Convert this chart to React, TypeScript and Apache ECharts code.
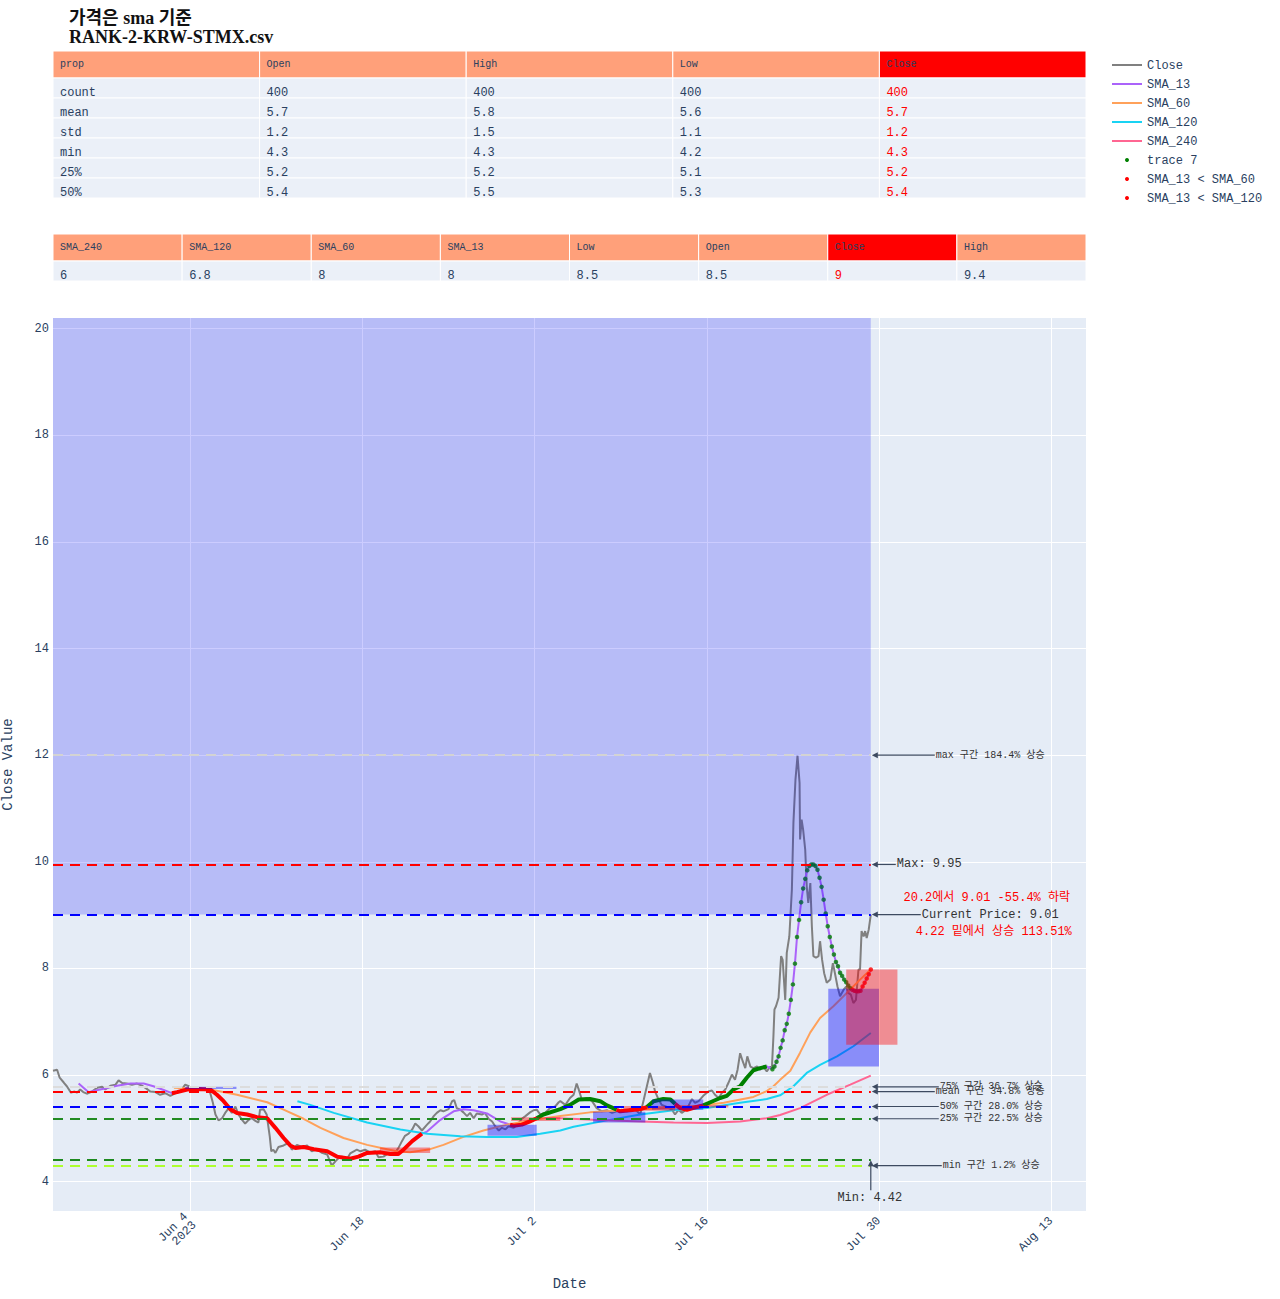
import React, { useEffect, useRef } from "react";
import * as echarts from "echarts";

const YEAR = 2023;
function ts(s: string): number {
  const [md, h] = s.split(" ");
  const [m, d] = md.split("/").map(Number);
  return Date.UTC(YEAR, m - 1, d, Number(h || 0));
}
const MONTHS = ["Jan", "Feb", "Mar", "Apr", "May", "Jun", "Jul", "Aug", "Sep", "Oct", "Nov", "Dec"];

// ---------- DATA ----------
const TITLE_LINES = ["가격은 sma 기준", "RANK-2-KRW-STMX.csv"];

const TABLE1_HEADER = ["prop", "Open", "High", "Low", "Close"];
const TABLE1_ROWS = [
  ["count", "400", "400", "400", "400"],
  ["mean", "5.7", "5.8", "5.6", "5.7"],
  ["std", "1.2", "1.5", "1.1", "1.2"],
  ["min", "4.3", "4.3", "4.2", "4.3"],
  ["25%", "5.2", "5.2", "5.1", "5.2"],
  ["50%", "5.4", "5.5", "5.3", "5.4"],
];
const TABLE2_HEADER = ["SMA_240", "SMA_120", "SMA_60", "SMA_13", "Low", "Open", "Close", "High"];
const TABLE2_VALUES = ["6", "6.8", "8", "8", "8.5", "8.5", "9", "9.4"];

const LEGEND_NAMES = ["Close", "SMA_13", "SMA_60", "SMA_120", "SMA_240", "trace 7", "SMA_13 < SMA_60", "SMA_13 < SMA_120"];

const FIRST_DATE = "5/23 20";
const LAST_DATE = "7/29 8";
const X_MAX_DATE = "8/15 20";
const X_TICKS = ["6/4 0", "6/18 0", "7/2 0", "7/16 0", "7/30 0", "8/13 0"];
const Y_TICKS = [4, 6, 8, 10, 12, 14, 16, 18, 20];
const Y_MIN = 3.45;
const Y_MAX = 20.2;

const CLOSE: [string, number][] = [
  ["5/23 20", 6.08], ["5/24 4", 6.1], ["5/24 9", 5.95], ["5/24 17", 5.86], ["5/24 23", 5.79], ["5/25 7", 5.67],
  ["5/25 14", 5.69], ["5/25 19", 5.67], ["5/26 1", 5.73], ["5/26 7", 5.68], ["5/26 14", 5.65], ["5/27 0", 5.69],
  ["5/27 10", 5.76], ["5/27 20", 5.78], ["5/28 2", 5.73], ["5/28 12", 5.8], ["5/28 22", 5.82], ["5/29 4", 5.9],
  ["5/29 11", 5.85], ["5/29 20", 5.84], ["5/30 6", 5.82], ["5/30 16", 5.84], ["5/31 2", 5.8], ["5/31 11", 5.74],
  ["5/31 18", 5.69], ["6/1 4", 5.68], ["6/1 13", 5.63], ["6/1 23", 5.66], ["6/2 9", 5.61], ["6/2 19", 5.66],
  ["6/3 4", 5.69], ["6/3 14", 5.82], ["6/3 21", 5.79], ["6/4 3", 5.74], ["6/4 13", 5.76], ["6/4 23", 5.74],
  ["6/5 9", 5.73], ["6/5 15", 5.66], ["6/5 20", 5.48], ["6/6 1", 5.26], ["6/6 7", 5.15], ["6/6 14", 5.19],
  ["6/6 20", 5.29], ["6/7 3", 5.38], ["6/7 9", 5.29], ["6/7 16", 5.41], ["6/7 22", 5.26], ["6/8 5", 5.16],
  ["6/8 11", 5.09], ["6/8 18", 5.16], ["6/9 0", 5.19], ["6/9 7", 5.14], ["6/9 13", 5.11], ["6/9 16", 5.35],
  ["6/9 23", 5.36], ["6/10 5", 5.26], ["6/10 11", 4.85], ["6/10 14", 4.57], ["6/10 18", 4.6], ["6/10 22", 4.54],
  ["6/11 4", 4.65], ["6/11 14", 4.68], ["6/12 0", 4.73], ["6/12 6", 4.6], ["6/12 16", 4.69], ["6/13 2", 4.65],
  ["6/13 12", 4.68], ["6/13 21", 4.57], ["6/14 7", 4.61], ["6/14 17", 4.54], ["6/15 3", 4.51], ["6/15 12", 4.3],
  ["6/15 19", 4.38], ["6/16 1", 4.44], ["6/16 8", 4.47], ["6/16 18", 4.43], ["6/17 0", 4.53], ["6/17 7", 4.57],
  ["6/17 13", 4.6], ["6/17 20", 4.57], ["6/18 5", 4.6], ["6/18 15", 4.55], ["6/19 1", 4.57], ["6/19 7", 4.46],
  ["6/19 17", 4.47], ["6/20 3", 4.54], ["6/20 13", 4.51], ["6/20 22", 4.63], ["6/21 5", 4.76], ["6/21 11", 4.86],
  ["6/21 18", 4.9], ["6/22 1", 4.98], ["6/22 7", 5.09], ["6/22 13", 5.04], ["6/22 20", 4.96], ["6/23 6", 5.07],
  ["6/23 12", 5.13], ["6/23 19", 5.23], ["6/24 1", 5.29], ["6/24 8", 5.34], ["6/24 14", 5.32], ["6/25 0", 5.36],
  ["6/25 7", 5.51], ["6/25 11", 5.53], ["6/25 16", 5.38], ["6/25 23", 5.35], ["6/26 5", 5.3], ["6/26 12", 5.23],
  ["6/26 18", 5.29], ["6/27 1", 5.19], ["6/27 7", 5.28], ["6/27 17", 5.26], ["6/27 23", 5.29], ["6/28 6", 5.18],
  ["6/28 13", 5.13], ["6/28 19", 5.04], ["6/29 2", 4.96], ["6/29 8", 5.01], ["6/29 15", 4.98], ["6/29 21", 5.04],
  ["6/30 7", 5.01], ["6/30 16", 5.09], ["6/30 23", 5.18], ["7/1 6", 5.23], ["7/1 15", 5.3], ["7/1 22", 5.34],
  ["7/2 4", 5.35], ["7/2 11", 5.26], ["7/2 20", 5.29], ["7/3 6", 5.38], ["7/3 16", 5.41], ["7/3 23", 5.49],
  ["7/4 2", 5.51], ["7/4 12", 5.44], ["7/4 21", 5.57], ["7/5 4", 5.63], ["7/5 10", 5.84], ["7/5 14", 5.73],
  ["7/5 20", 5.54], ["7/6 6", 5.57], ["7/6 16", 5.51], ["7/7 1", 5.38], ["7/7 11", 5.32], ["7/7 21", 5.34],
  ["7/8 7", 5.29], ["7/8 16", 5.32], ["7/9 2", 5.35], ["7/9 12", 5.32], ["7/9 22", 5.38], ["7/10 8", 5.32],
  ["7/10 14", 5.26], ["7/10 21", 5.54], ["7/11 3", 5.79], ["7/11 9", 6.04], ["7/11 15", 5.85], ["7/11 19", 5.69],
  ["7/12 2", 5.54], ["7/12 8", 5.44], ["7/12 18", 5.4], ["7/13 4", 5.35], ["7/13 10", 5.26], ["7/13 17", 5.35],
  ["7/13 23", 5.29], ["7/14 9", 5.36], ["7/14 19", 5.55], ["7/15 1", 5.48], ["7/15 8", 5.51], ["7/15 17", 5.61],
  ["7/16 3", 5.69], ["7/16 10", 5.71], ["7/16 16", 5.63], ["7/16 23", 5.57], ["7/17 5", 5.66], ["7/17 12", 5.73],
  ["7/17 18", 5.85], ["7/18 1", 6.01], ["7/18 7", 5.91], ["7/18 12", 6.1], ["7/18 17", 6.41], ["7/18 22", 6.26],
  ["7/19 3", 6.13], ["7/19 7", 6.35], ["7/19 13", 6.16], ["7/19 19", 6.13], ["7/20 2", 6.16], ["7/20 8", 6.1],
  ["7/20 14", 6.16], ["7/20 21", 6.07], ["7/21 4", 6.16], ["7/21 7", 6.13], ["7/21 10", 6.73], ["7/21 12", 7.23],
  ["7/21 15", 7.29], ["7/21 20", 7.45], ["7/22 1", 8.23], ["7/22 4", 8.16], ["7/22 9", 7.41], ["7/22 12", 8.29],
  ["7/22 17", 8.6], ["7/22 22", 9.48], ["7/23 1", 10.73], ["7/23 5", 11.54], ["7/23 9", 11.99], ["7/23 13", 11.48],
  ["7/23 14", 10.42], ["7/23 17", 10.79], ["7/23 20", 10.6], ["7/24 0", 10.23], ["7/24 3", 9.54], ["7/24 6", 9.23],
  ["7/24 10", 9.6], ["7/24 13", 8.79], ["7/24 16", 8.23], ["7/24 21", 8.2], ["7/25 2", 8.23], ["7/25 5", 8.51],
  ["7/25 9", 8.16], ["7/25 13", 7.91], ["7/25 18", 7.73], ["7/26 1", 7.79], ["7/26 6", 8.1], ["7/26 10", 7.91],
  ["7/26 15", 7.66], ["7/26 20", 7.48], ["7/27 3", 7.6], ["7/27 8", 7.66], ["7/27 12", 7.54], ["7/27 17", 7.51],
  ["7/27 22", 7.35], ["7/28 3", 7.41], ["7/28 8", 7.98], ["7/28 11", 7.98], ["7/28 14", 8.7], ["7/28 18", 8.6],
  ["7/28 21", 8.7], ["7/29 0", 8.57], ["7/29 4", 8.73], ["7/29 8", 9.01],
];

const SMA_13: [string, number][] = [
  ["5/25 22", 5.84], ["5/26 17", 5.68], ["5/27 16", 5.73], ["5/29 1", 5.8], ["5/30 3", 5.84], ["5/31 5", 5.84],
  ["6/1 0", 5.79], ["6/1 20", 5.72], ["6/2 12", 5.66], ["6/2 22", 5.68], ["6/3 18", 5.73], ["6/4 13", 5.74],
  ["6/5 15", 5.73], ["6/6 4", 5.63], ["6/6 17", 5.51], ["6/7 6", 5.36], ["6/7 19", 5.29], ["6/8 15", 5.26],
  ["6/9 10", 5.21], ["6/10 6", 5.19], ["6/10 22", 5.01], ["6/11 14", 4.82], ["6/12 3", 4.68], ["6/12 13", 4.63],
  ["6/13 5", 4.65], ["6/14 1", 4.61], ["6/15 3", 4.57], ["6/15 22", 4.47], ["6/17 0", 4.43], ["6/17 16", 4.47],
  ["6/18 9", 4.54], ["6/19 11", 4.55], ["6/20 6", 4.52], ["6/20 22", 4.52], ["6/21 8", 4.6], ["6/22 1", 4.76],
  ["6/22 20", 4.9], ["6/23 6", 4.94], ["6/24 8", 5.16], ["6/25 10", 5.32], ["6/26 5", 5.36], ["6/27 1", 5.34],
  ["6/28 3", 5.28], ["6/29 5", 5.13], ["6/30 0", 5.07], ["6/30 7", 5.05], ["6/30 23", 5.07], ["7/1 15", 5.13],
  ["7/2 4", 5.19], ["7/2 17", 5.26], ["7/3 23", 5.35], ["7/4 2", 5.36], ["7/4 21", 5.44], ["7/5 14", 5.54],
  ["7/6 12", 5.55], ["7/7 8", 5.51], ["7/7 21", 5.43], ["7/8 16", 5.35], ["7/8 23", 5.32], ["7/9 18", 5.34],
  ["7/10 14", 5.36], ["7/11 3", 5.4], ["7/11 16", 5.51], ["7/12 11", 5.55], ["7/13 1", 5.54], ["7/13 10", 5.46],
  ["7/13 20", 5.38], ["7/14 9", 5.35], ["7/15 4", 5.4], ["7/15 17", 5.43], ["7/16 7", 5.49], ["7/17 2", 5.57],
  ["7/17 15", 5.61], ["7/18 4", 5.73], ["7/18 17", 5.79], ["7/19 6", 5.95], ["7/19 19", 6.09], ["7/20 8", 6.13],
  ["7/20 21", 6.16],
];

// SMA_13 read at every 4h candle over the spike, where the signal dots are visible one by one
const SMA_13_SPIKE: [string, number][] = [
  ["7/21 8", 6.11], ["7/21 12", 6.16], ["7/21 16", 6.25], ["7/21 20", 6.35], ["7/22 0", 6.51], ["7/22 4", 6.65],
  ["7/22 8", 6.84], ["7/22 12", 6.96], ["7/22 16", 7.15], ["7/22 20", 7.41], ["7/23 0", 7.7], ["7/23 4", 8.09],
  ["7/23 8", 8.59], ["7/23 12", 8.91], ["7/23 16", 9.24], ["7/23 20", 9.5], ["7/24 0", 9.68], ["7/24 4", 9.84],
  ["7/24 8", 9.92], ["7/24 12", 9.95], ["7/24 16", 9.95], ["7/24 20", 9.92], ["7/25 0", 9.85], ["7/25 4", 9.7],
  ["7/25 8", 9.53], ["7/25 12", 9.29], ["7/25 16", 9.03], ["7/25 20", 8.79], ["7/26 0", 8.59], ["7/26 4", 8.41],
  ["7/26 8", 8.26], ["7/26 12", 8.12], ["7/26 16", 8.04], ["7/26 20", 7.92], ["7/27 0", 7.86], ["7/27 4", 7.79],
  ["7/27 8", 7.74], ["7/27 12", 7.68], ["7/27 16", 7.63], ["7/27 20", 7.6], ["7/28 0", 7.58], ["7/28 4", 7.57],
  ["7/28 8", 7.57], ["7/28 12", 7.58], ["7/28 16", 7.66], ["7/28 20", 7.73], ["7/29 0", 7.81], ["7/29 4", 7.89],
  ["7/29 8", 7.98],
];

const SMA_60: [string, number][] = [
  ["6/2 16", 5.76], ["6/5 15", 5.73], ["6/7 19", 5.63], ["6/10 6", 5.49], ["6/11 14", 5.35], ["6/13 5", 5.18],
  ["6/14 14", 5.01], ["6/16 11", 4.82], ["6/18 9", 4.69], ["6/20 0", 4.61], ["6/20 19", 4.57], ["6/21 21", 4.55],
  ["6/23 12", 4.61], ["6/24 14", 4.69], ["6/26 5", 4.84], ["6/27 20", 4.96], ["6/29 18", 5.07], ["7/1 22", 5.16],
  ["7/4 2", 5.23], ["7/6 12", 5.3], ["7/10 14", 5.36], ["7/14 16", 5.4], ["7/17 9", 5.48], ["7/19 19", 5.59],
  ["7/20 21", 5.7], ["7/21 10", 5.79], ["7/21 23", 5.91], ["7/22 19", 6.08], ["7/23 14", 6.42], ["7/24 10", 6.8],
  ["7/25 5", 7.07], ["7/26 7", 7.29], ["7/27 9", 7.54], ["7/28 11", 7.79], ["7/29 8", 7.98],
];

const SMA_120: [string, number][] = [
  ["6/12 17", 5.51], ["6/13 18", 5.44], ["6/15 16", 5.29], ["6/18 9", 5.11], ["6/21 2", 4.98], ["6/23 6", 4.9],
  ["6/25 23", 4.85], ["6/28 3", 4.84], ["6/30 13", 4.84], ["7/2 11", 4.9], ["7/4 2", 4.96], ["7/5 4", 5.03],
  ["7/7 21", 5.15], ["7/10 14", 5.26], ["7/13 7", 5.34], ["7/16 0", 5.38], ["7/18 17", 5.48], ["7/20 21", 5.55],
  ["7/21 23", 5.62], ["7/23 1", 5.79], ["7/24 3", 6.04], ["7/25 5", 6.19], ["7/26 14", 6.35], ["7/27 22", 6.54],
  ["7/29 8", 6.79],
];

const SMA_240: [string, number][] = [
  ["7/2 20", 5.19], ["7/4 2", 5.19], ["7/6 18", 5.16], ["7/10 14", 5.13], ["7/13 7", 5.11], ["7/16 0", 5.1],
  ["7/18 17", 5.13], ["7/20 21", 5.19], ["7/21 23", 5.25], ["7/23 14", 5.38], ["7/25 18", 5.63], ["7/27 16", 5.82],
  ["7/29 8", 5.99],
];

// periods where SMA_13 carries a signal marker: "up" = trace 7, "down" = SMA_13 < SMA_60 / SMA_120
const SIGNAL_SEGMENTS: [string, string, "up" | "down"][] = [
  ["6/2 12", "6/22 20", "down"],
  ["6/30 0", "7/2 4", "down"],
  ["7/2 4", "7/8 16", "up"],
  ["7/8 16", "7/11 3", "down"],
  ["7/11 3", "7/13 10", "up"],
  ["7/13 10", "7/15 17", "down"],
  ["7/15 17", "7/27 16", "up"],
  ["7/27 20", "7/29 8", "down"],
];

// reference levels
const LEVEL_MAX_RANGE = 12.0;
const LEVEL_MAX = 9.95;
const LEVEL_CURRENT = 9.01;
const LEVEL_Q75 = 5.78;
const LEVEL_MEAN = 5.69;
const LEVEL_Q50 = 5.41;
const LEVEL_Q25 = 5.18;
const LEVEL_MIN_SMA = 4.42;
const LEVEL_MIN = 4.3;
const FALL_FROM = 20.2;

// boxes [from, to, top, bottom]
const BLUE_BOXES: [string, string, number, number][] = [
  ["6/3 14", "6/7 18", 5.78, 5.74],
  ["6/28 4", "7/2 4", 5.07, 4.86],
  ["7/6 18", "7/11 0", 5.31, 5.11],
  ["7/11 13", "7/15 17", 5.54, 5.35],
  ["7/25 21", "7/30 0", 7.62, 6.16],
];
const RED_BOXES: [string, string, number, number][] = [
  ["6/19 10", "6/23 12", 4.64, 4.54],
  ["6/30 2", "7/4 2", 5.21, 5.14],
  ["7/9 5", "7/13 10", 5.42, 5.33],
  ["7/13 10", "7/17 18", 5.44, 5.39],
  ["7/27 8", "7/31 12", 7.98, 6.57],
];

const ANNOTATION_TEXTS = {
  maxRange: "max 구간 184.4% 상승",
  max: "Max: 9.95",
  current: "Current Price: 9.01",
  fall: "20.2에서 9.01 -55.4% 하락",
  rise: "4.22 밑에서 상승 113.51%",
  q75: "75% 구간 36.7% 상승",
  mean: "mean 구간 34.8% 상승",
  q50: "50% 구간 28.0% 상승",
  q25: "25% 구간 22.5% 상승",
  min: "min 구간 1.2% 상승",
  minSma: "Min: 4.42",
};

// ---------- STYLE ----------
const MONO = "'Liberation Mono', 'Noto Sans CJK KR', monospace";
const SERIF = "'Liberation Serif', 'Noto Sans CJK KR', serif";
const TXT = "#2a3f5f";
const ARROW = "#3d4a60";
const C_CLOSE = "#808080";
const C_SMA13 = "#AB63FA";
const C_SMA60 = "#FFA15A";
const C_SMA120 = "#19D3F3";
const C_SMA240 = "#FF6692";
const C_UP = "#008000";
const C_DOWN = "#FF0000";

export default function App() {
  const ref = useRef<HTMLDivElement>(null);

  useEffect(() => {
    const chart = echarts.init(ref.current!, undefined, { renderer: "svg" });
    const toPts = (arr: [string, number][]) => arr.map(([d, v]) => [ts(d), v]);
    const inRange = (d: string, f: string, t: string) => ts(d) >= ts(f) && ts(d) <= ts(t);

    const series: any[] = [];

    const boxItem = (b: [string, string, number, number], color: string) => [
      { coord: [ts(b[0]), b[2]], itemStyle: { color, borderWidth: 0 } },
      { coord: [ts(b[1]), b[3]] },
    ];
    series.push({
      name: "Close",
      type: "line",
      data: toPts(CLOSE),
      showSymbol: false,
      lineStyle: { color: C_CLOSE, width: 2 },
      z: 2,
      silent: true,
      markLine: {
        silent: true,
        z: 1,
        symbol: ["none", "none"],
        label: { show: false },
        emphasis: { disabled: true },
        lineStyle: { color: "#ffffff", width: 1, type: "solid" },
        data: [...Y_TICKS.map((v) => ({ yAxis: v })), ...X_TICKS.map((d) => ({ xAxis: ts(d) }))],
      },
      markArea: {
        silent: true,
        z: 6,
        label: { show: false },
        emphasis: { disabled: true },
        data: [
          [
            { coord: [ts(FIRST_DATE), LEVEL_CURRENT], itemStyle: { color: "rgba(0,0,255,0.2)", borderWidth: 0 } },
            { coord: [ts(LAST_DATE), FALL_FROM] },
          ],
          ...BLUE_BOXES.map((b) => boxItem(b, "rgba(0,0,255,0.4)")),
          ...RED_BOXES.map((b) => boxItem(b, "rgba(255,0,0,0.4)")),
        ],
      },
    });

    const levelLine = (v: number, color: string) => [
      { coord: [ts(FIRST_DATE), v], lineStyle: { color, width: 2, type: [10, 7] } },
      { coord: [ts(LAST_DATE), v] },
    ];

    series.push({
      name: "SMA_13",
      type: "line",
      data: toPts([...SMA_13, ...SMA_13_SPIKE]),
      showSymbol: false,
      lineStyle: { color: C_SMA13, width: 2 },
      z: 3,
      silent: true,
    });
    series.push({ name: "SMA_60", type: "line", data: toPts(SMA_60), showSymbol: false, lineStyle: { color: C_SMA60, width: 2 }, z: 3, silent: true });
    series.push({ name: "SMA_120", type: "line", data: toPts(SMA_120), showSymbol: false, lineStyle: { color: C_SMA120, width: 2 }, z: 3, silent: true });
    series.push({
      name: "SMA_240",
      type: "line",
      data: toPts(SMA_240),
      showSymbol: false,
      lineStyle: { color: C_SMA240, width: 2 },
      z: 3,
      silent: true,
      markLine: {
        silent: true,
        z: 7,
        symbol: ["none", "none"],
        label: { show: false },
        emphasis: { disabled: true },
        data: [
          levelLine(LEVEL_MAX_RANGE, "#D3D3D3"),
          levelLine(LEVEL_MAX, "#FF0000"),
          levelLine(LEVEL_CURRENT, "#0000FF"),
          levelLine(LEVEL_Q75, "#DCDCDC"),
          levelLine(LEVEL_MEAN, "#FF0000"),
          levelLine(LEVEL_Q50, "#0000FF"),
          levelLine(LEVEL_Q25, "#228B22"),
          levelLine(LEVEL_MIN_SMA, "#1E8A1E"),
          levelLine(LEVEL_MIN, "#ADFF2F"),
        ],
      },
    });

    SIGNAL_SEGMENTS.forEach(([f, t, kind]) => {
      const pts = SMA_13.filter(([d]) => inRange(d, f, t));
      if (pts.length > 1) {
        series.push({
          type: "line",
          data: toPts(pts),
          showSymbol: false,
          lineStyle: { color: kind === "up" ? C_UP : C_DOWN, width: 4 },
          z: 4,
          silent: true,
        });
      }
    });
    (["up", "down"] as const).forEach((kind) => {
      const pts = SMA_13_SPIKE.filter(([d]) => SIGNAL_SEGMENTS.some(([f, t, k]) => k === kind && inRange(d, f, t)));
      series.push({
        type: "scatter",
        data: toPts(pts),
        symbol: "circle",
        symbolSize: 4.5,
        itemStyle: { color: kind === "up" ? C_UP : C_DOWN },
        z: 5,
        silent: true,
      });
    });

    const xTickVals = X_TICKS.map(ts);

    const option: any = {
      animation: false,
      backgroundColor: "#ffffff",
      grid: {
        left: 53,
        top: 318,
        width: 1033,
        height: 893,
        show: true,
        backgroundColor: "#E5ECF6",
        borderWidth: 0,
        containLabel: false,
        outerBoundsMode: "none",
      },
      xAxis: {
        type: "value",
        min: ts(FIRST_DATE),
        max: ts(X_MAX_DATE),
        name: "Date",
        nameLocation: "middle",
        nameGap: 66,
        nameTextStyle: { fontFamily: MONO, fontSize: 14, color: TXT },
        axisLine: { show: false },
        axisTick: { show: false, customValues: xTickVals },
        splitLine: { show: false },
        axisLabel: {
          customValues: xTickVals,
          rotate: 45,
          margin: 8,
          fontFamily: MONO,
          fontSize: 12,
          color: TXT,
          formatter: (val: number) => {
            const d = new Date(val);
            const s = `${MONTHS[d.getUTCMonth()]} ${d.getUTCDate()}`;
            return val === xTickVals[0] ? `${s}\n${d.getUTCFullYear()}` : s;
          },
        },
      },
      yAxis: {
        type: "value",
        min: Y_MIN,
        max: Y_MAX,
        name: "Close Value",
        nameLocation: "middle",
        nameGap: 38,
        nameRotate: 90,
        nameTextStyle: { fontFamily: MONO, fontSize: 14, color: TXT },
        axisLine: { show: false },
        axisTick: { show: false, customValues: Y_TICKS },
        splitLine: { show: false },
        axisLabel: { customValues: Y_TICKS, margin: 4, fontFamily: MONO, fontSize: 12, color: TXT },
      },
      series,
    };
    chart.setOption(option);

    const g: any[] = [];
    TITLE_LINES.forEach((line, i) => {
      g.push({
        type: "text",
        x: 69,
        y: 18 + i * 19,
        style: { text: line, font: `bold 18px ${SERIF}`, fill: "#111", align: "left", verticalAlign: "middle" },
      });
    });

    const drawTable = (headers: string[], rows: string[][], top: number, redCol: number) => {
      const x0 = 53;
      const w = 1033 / headers.length;
      const hh = 27;
      const rh = 20;
      headers.forEach((h, i) => {
        g.push({
          type: "rect",
          shape: { x: x0 + i * w, y: top, width: w, height: hh },
          style: { fill: i === redCol ? "#FF0000" : "#FFA07A", stroke: "#ffffff", lineWidth: 1 },
        });
        g.push({
          type: "text",
          x: x0 + i * w + 7,
          y: top + hh / 2,
          style: { text: h, font: `10px ${MONO}`, fill: TXT, align: "left", verticalAlign: "middle" },
        });
      });
      rows.forEach((row, r) => {
        const y = top + hh + r * rh;
        row.forEach((cell, i) => {
          g.push({
            type: "rect",
            shape: { x: x0 + i * w, y, width: w, height: rh },
            style: { fill: "#EBF0F8", stroke: "#ffffff", lineWidth: 1 },
          });
          g.push({
            type: "text",
            x: x0 + i * w + 7,
            y: y + 15,
            style: { text: cell, font: `12px ${MONO}`, fill: i === redCol ? "#FF0000" : TXT, align: "left", verticalAlign: "middle" },
          });
        });
      });
    };
    drawTable(TABLE1_HEADER, TABLE1_ROWS, 51, TABLE1_HEADER.indexOf("Close"));
    drawTable(TABLE2_HEADER, [TABLE2_VALUES], 234, TABLE2_HEADER.indexOf("Close"));

    const legendColors = [C_CLOSE, C_SMA13, C_SMA60, C_SMA120, C_SMA240, C_UP, C_DOWN, C_DOWN];
    LEGEND_NAMES.forEach((name, i) => {
      const y = 65 + i * 19;
      if (i < 5) {
        g.push({ type: "line", shape: { x1: 1112, y1: y, x2: 1142, y2: y }, style: { stroke: legendColors[i], lineWidth: 2 } });
      } else {
        g.push({ type: "circle", shape: { cx: 1127, cy: y, r: 2 }, style: { fill: legendColors[i] } });
      }
      g.push({
        type: "text",
        x: 1147,
        y: y + 1,
        style: { text: name, font: `12px ${MONO}`, fill: TXT, align: "left", verticalAlign: "middle" },
      });
    });

    const px = (d: string, v: number) => chart.convertToPixel({ gridIndex: 0 }, [ts(d), v]) as number[];
    const arrowLeft = (v: number, len: number, text: string, size: number) => {
      const [hx, hy] = px(LAST_DATE, v);
      g.push({ type: "line", z: 20, shape: { x1: hx + 5, y1: hy, x2: hx + len, y2: hy }, style: { stroke: ARROW, lineWidth: 1.2 } });
      g.push({ type: "polygon", z: 20, shape: { points: [[hx + 1, hy], [hx + 7, hy - 3], [hx + 7, hy + 3]] }, style: { fill: ARROW } });
      g.push({
        type: "text",
        z: 21,
        x: hx + len + 1,
        y: hy,
        style: { text, font: `${size}px ${MONO}`, fill: "#333", align: "left", verticalAlign: "middle" },
      });
    };
    arrowLeft(LEVEL_MAX_RANGE, 64, ANNOTATION_TEXTS.maxRange, 10);
    arrowLeft(LEVEL_MAX, 25, ANNOTATION_TEXTS.max, 12);
    arrowLeft(LEVEL_CURRENT, 50, ANNOTATION_TEXTS.current, 12);
    arrowLeft(LEVEL_Q75, 68, ANNOTATION_TEXTS.q75, 10);
    arrowLeft(LEVEL_MEAN, 64, ANNOTATION_TEXTS.mean, 10);
    arrowLeft(LEVEL_Q50, 68, ANNOTATION_TEXTS.q50, 10);
    arrowLeft(LEVEL_Q25, 68, ANNOTATION_TEXTS.q25, 10);
    arrowLeft(LEVEL_MIN, 71, ANNOTATION_TEXTS.min, 10);

    const [cx, cy] = px(LAST_DATE, LEVEL_CURRENT);
    g.push({
      type: "text",
      z: 21,
      x: cx + 116,
      y: cy - 17,
      style: { text: ANNOTATION_TEXTS.fall, font: `12px ${MONO}`, fill: "#FF0000", align: "center", verticalAlign: "middle" },
    });
    g.push({
      type: "text",
      z: 21,
      x: cx + 123,
      y: cy + 17,
      style: { text: ANNOTATION_TEXTS.rise, font: `12px ${MONO}`, fill: "#FF0000", align: "center", verticalAlign: "middle" },
    });

    const [mx, my] = px(LAST_DATE, LEVEL_MIN_SMA);
    g.push({ type: "line", z: 20, shape: { x1: mx, y1: my + 5, x2: mx, y2: my + 31 }, style: { stroke: ARROW, lineWidth: 1.2 } });
    g.push({ type: "polygon", z: 20, shape: { points: [[mx, my + 1], [mx - 3, my + 7], [mx + 3, my + 7]] }, style: { fill: ARROW } });
    g.push({
      type: "text",
      z: 21,
      x: mx - 1,
      y: my + 39,
      style: { text: ANNOTATION_TEXTS.minSma, font: `12px ${MONO}`, fill: "#333", align: "center", verticalAlign: "middle" },
    });

    chart.setOption({ graphic: g });

    return () => chart.dispose();
  }, []);

  return (
    <div
      ref={ref}
      style={{ position: "absolute", left: 0, top: 0, width: 1280, height: 1299, background: "#ffffff" }}
    />
  );
}
